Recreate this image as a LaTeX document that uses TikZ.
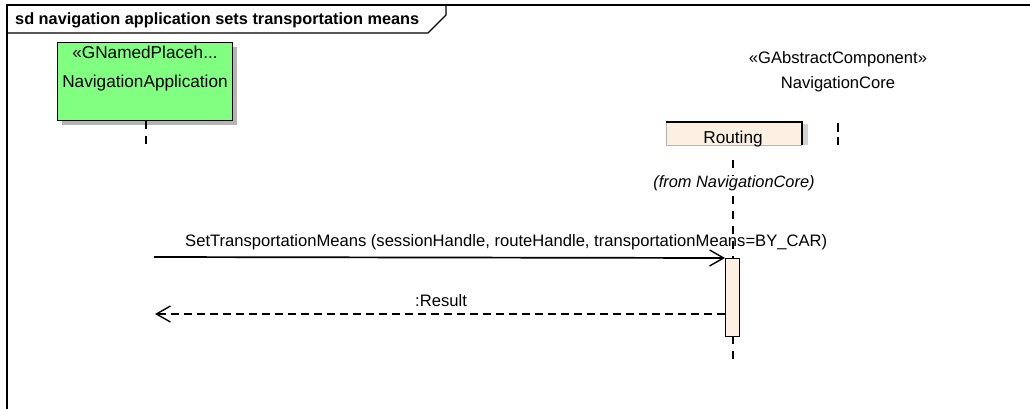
\documentclass[tikz,border=0pt]{standalone}
\usepackage{fontspec}
\setmainfont{Liberation Sans}
\usetikzlibrary{arrows.meta}
\definecolor{appgreen}{HTML}{80FF80}
\definecolor{beige}{HTML}{FBF0E1}
\definecolor{shadowgray}{HTML}{B4B4B4}
\begin{document}
\begin{tikzpicture}[x=1pt,y=-1pt,
  lbl/.style={inner sep=0pt,font=\fontsize{16.6}{18}\selectfont},
  biglbl/.style={inner sep=0pt,font=\fontsize{17.2}{19}\selectfont},
  lifeline/.style={line width=1.6pt,dash pattern=on 8pt off 7pt},
  msg/.style={line width=1.7pt,-{Straight Barb[length=14pt,width=16pt,line width=1.4pt]}},
  ret/.style={line width=1.6pt,dash pattern=on 8pt off 5pt,-{Straight Barb[length=14pt,width=16pt,line width=1.4pt]}}]
\useasboundingbox (0,0) rectangle (1030,408);
\fill[white] (0,0) rectangle (1030,408);
% frame
\draw[line width=1.6pt] (7,420) -- (7,5) -- (1040,5);
\draw[line width=1.3pt] (7,33) -- (428,33) -- (446,15) -- (446,5);
\node[anchor=base west,inner sep=0pt,font=\bfseries\fontsize{16.3}{18}\selectfont] (title) at (15,24) {sd navigation application sets transportation means};
% NavigationApplication
\fill[shadowgray] (62,47) rectangle (237,125);
\node[draw,line width=1.4pt,fill=appgreen,minimum width=175pt,minimum height=78pt,anchor=north west,inner sep=0pt] (app) at (57,42) {};
\node[biglbl,anchor=base] (appst) at (145,58) {«GNamedPlaceh...};
\node[biglbl,anchor=base] (appname) at (145,87) {NavigationApplication};
\coordinate (appll) at (146,145);
\draw[lifeline] (146,121) -- (appll);
% NavigationCore
\node[lbl,anchor=base] (corest) at (838,63) {«GAbstractComponent»};
\node[lbl,anchor=base] (corename) at (838,88) {NavigationCore};
\coordinate (corell1) at (838,123);
\coordinate (corell2) at (838,145);
\draw[lifeline,dash pattern=on 9pt off 5pt] (corell1) -- (corell2);
% Routing
\fill[shadowgray!60] (802,124) rectangle (808,145);
\fill[beige] (666,122) rectangle (802,145);
\draw[line width=0.6pt,shadowgray] (666,122) -- (666,145) -- (802,145);
\draw[line width=1.7pt] (666,122) -- (802,122) -- (802,145);
\node[biglbl,anchor=base] (routing) at (733,143) {Routing};
\node[lbl,anchor=base,font=\itshape\fontsize{16.4}{18}\selectfont] (from) at (734,187) {(from NavigationCore)};
\coordinate (rtop) at (733,160);
\coordinate (rbot) at (733,365);
\draw[lifeline] (rtop) -- (733,176);
\draw[lifeline] (733,196) -- (733,258);
\draw[lifeline] (733,336) -- (rbot);
% activation
\node[draw,line width=1.4pt,fill=beige,minimum width=14pt,minimum height=78pt,anchor=north west,inner sep=0pt] (act) at (725,258) {};
% messages
\coordinate (m1s) at (154,257);
\draw[msg] (m1s) -- (act.north west);
\node[lbl,anchor=base west] (m1l) at (185,246) {SetTransportationMeans (sessionHandle, routeHandle, transportationMeans=BY\_CAR)};
\coordinate (m2e) at (155,314);
\draw[ret] (act.west |- m2e) -- (m2e);
\node[lbl,anchor=base west] (m2l) at (415,306) {:Result};
\end{tikzpicture}
\end{document}
